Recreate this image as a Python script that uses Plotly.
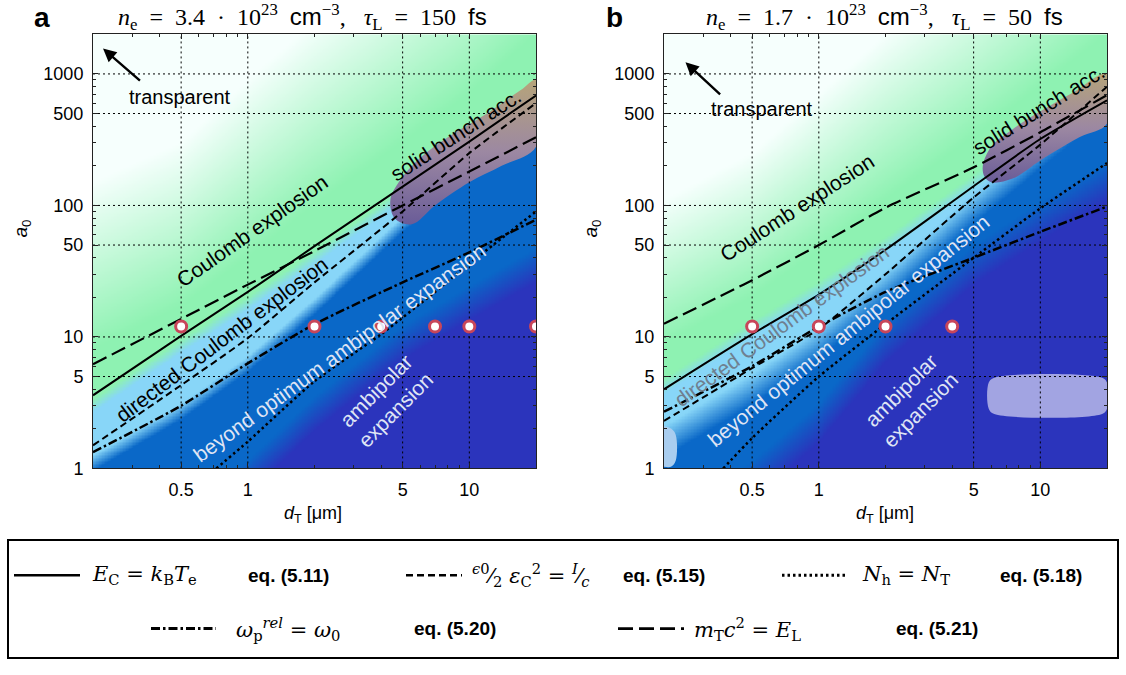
import numpy as np
import plotly.graph_objects as go

# ---------------- data ----------------
# panel a : n_e = 3.4e23 cm^-3, tau_L = 150 fs
a_solid_x = [0.2, 0.5, 1, 2, 5, 10, 20]
a_solid_y = [3.6, 10.2, 22, 49, 139, 306, 686]
a_dash_x = [0.2, 0.5, 1, 2, 5, 10, 20]
a_dash_y = [1.5, 4.3, 9.8, 26, 90, 250, 600]
a_dot_x = [0.72, 1, 2, 4, 7, 10, 20]
a_dot_y = [1.0, 1.6, 4.6, 10.5, 22, 36, 90]
a_dashdot_x = [0.2, 0.5, 1, 2, 5, 10, 20]
a_dashdot_y = [1.33, 3.0, 6.3, 12.5, 26, 44, 78]
a_longdash_x = [0.2, 0.5, 1, 2, 5, 10, 20]
a_longdash_y = [6.2, 13.7, 25, 45, 100, 181, 330]
a_pts_x = [0.5, 2, 4, 7, 10, 20]
a_pts_y = [12, 12, 12, 12, 12, 12]

# panel b : n_e = 1.7e23 cm^-3, tau_L = 50 fs
b_solid_x = [0.2, 0.5, 1, 2, 5, 10, 20]
b_solid_y = [4.0, 10.5, 21, 46, 140, 320, 630]
b_dash_x = [0.2, 0.5, 1, 2, 5, 10, 20]
b_dash_y = [2.3, 5.8, 11.5, 30, 115, 290, 800]
b_dot_x = [0.37, 0.5, 1, 2, 5, 10, 20]
b_dot_y = [1.0, 1.7, 5.0, 12.5, 40, 95, 210]
b_dashdot_x = [0.2, 0.5, 1, 2, 5, 10, 20]
b_dashdot_y = [2.7, 6.0, 12, 22, 40, 63, 98]
b_longdash_x = [0.2, 0.5, 1, 2, 5, 10, 20]
b_longdash_y = [12.6, 27, 50, 96, 195, 360, 690]
b_pts_x = [0.5, 1, 2, 4]
b_pts_y = [12, 12, 12, 12]

# regime boundaries (a0 value at given d_T) used for the coloured background
bound_x = [0.2, 0.5, 1, 2, 5, 10, 20]
a_bound_md = [0.15, 0.4, 0.85, 2.6, 9, 18, 35]       # dark / medium blue
a_bound_lm = [1.1, 2.7, 6.2, 17, 72, 200, 520]       # medium / light blue
a_bound_gl = [3.0, 8.5, 18, 40, 120, 290, 650]       # light blue / green
a_bound_g = [8, 17, 40, 100, 300, 700, 2000]         # fully green
a_bound_w = [150, 300, 900, 2500, 8000, 20000, 50000]  # white (transparent)
b_bound_md = [0.3, 0.8, 2.2, 9, 35, 75, 150]
b_bound_lm = [1.6, 4.0, 9, 24, 95, 250, 650]
b_bound_gl = [4.2, 11.5, 23, 50, 150, 340, 700]
b_bound_g = [9, 20, 45, 110, 330, 800, 2000]
b_bound_w = [110, 250, 700, 2000, 6500, 17000, 50000]

# "solid bunch acc." regions (outline)
a_blob_x = [4.4, 4.8, 6, 8, 12, 17, 20, 20, 14, 10, 7, 5.5, 4.6, 4.4]
a_blob_y = [110, 150, 230, 330, 500, 750, 900, 280, 200, 150, 100, 72, 80, 110]
b_blob_x = [5.5, 6, 7.5, 10, 14, 20, 20, 15, 10, 7.5, 6, 5.6, 5.5]
b_blob_y = [200, 280, 380, 520, 720, 1000, 420, 330, 220, 160, 150, 165, 200]
# light patches in panel b
b_patch_x = [6.2, 19, 20, 20, 19, 6.2, 5.85, 5.85, 6.2]
b_patch_y = [4.9, 4.9, 4.5, 2.85, 2.6, 2.6, 2.85, 4.5, 4.9]
b_corner_x = [0.2, 0.216, 0.226, 0.226, 0.215, 0.2]
b_corner_y = [2.1, 2.0, 1.8, 1.15, 1.03, 1.03]

x_ticks = [0.5, 1, 5, 10]
y_ticks = [1, 5, 10, 50, 100, 500, 1000]
X_RANGE = [0.2, 20]
Y_RANGE = [1, 10 ** 3.3]

# ---------------- colours ----------------
C_D, C_M, C_L, C_G, C_W = '#2b34bc', '#0a68c8', '#88d6f8', '#8ef2b2', '#f6fffd'
cscale = [[0, C_D], [0.2, C_M], [0.4, C_M], [0.5, C_L], [0.6, C_L],
          [0.7, C_G], [0.8, C_G], [1.0, C_W]]


def regime_field(md, lm, gl, g, w, widths):
    lx = np.linspace(np.log10(X_RANGE[0]), np.log10(X_RANGE[1]), 300)
    ly = np.linspace(np.log10(Y_RANGE[0]), np.log10(Y_RANGE[1]), 300)
    lbx = np.log10(bound_x)

    def at(b):
        return np.interp(lx, lbx, np.log10(b))
    e = np.array([at(md) - widths[0], at(md) + widths[0],
                  at(lm) - widths[1], at(lm) + widths[1],
                  at(gl) - widths[2], at(gl) + widths[2],
                  at(g), at(w)])
    e = np.maximum.accumulate(e + np.arange(8)[:, None] * 1e-6, axis=0)
    vals = [0, 0.2, 0.4, 0.5, 0.6, 0.7, 0.8, 1.0]
    z = np.empty((len(ly), len(lx)))
    for j in range(len(lx)):
        z[:, j] = np.interp(ly, e[:, j], vals)
    return 10 ** lx, 10 ** ly, z


fig = go.Figure()

LINE_STYLES = {
    'solid': dict(dash='solid', width=2),
    'dash': dict(dash='7px,4px', width=2),
    'dot': dict(dash='2.5px,3px', width=2.5),
    'dashdot': dict(dash='9px,3px,2.5px,3px', width=2.5),
    'longdash': dict(dash='15px,6px', width=2.2),
}

panels = [
    dict(xa='x', ya='y',
         field=(a_bound_md, a_bound_lm, a_bound_gl, a_bound_g, a_bound_w, (0.13, 0.06, 0.05)),
         blob=(a_blob_x, a_blob_y),
         lines=[('solid', a_solid_x, a_solid_y), ('dash', a_dash_x, a_dash_y),
                ('dot', a_dot_x, a_dot_y), ('dashdot', a_dashdot_x, a_dashdot_y),
                ('longdash', a_longdash_x, a_longdash_y)],
         pts=(a_pts_x, a_pts_y)),
    dict(xa='x2', ya='y2',
         field=(b_bound_md, b_bound_lm, b_bound_gl, b_bound_g, b_bound_w, (0.15, 0.12, 0.06)),
         blob=(b_blob_x, b_blob_y),
         lines=[('solid', b_solid_x, b_solid_y), ('dash', b_dash_x, b_dash_y),
                ('dot', b_dot_x, b_dot_y), ('dashdot', b_dashdot_x, b_dashdot_y),
                ('longdash', b_longdash_x, b_longdash_y)],
         pts=(b_pts_x, b_pts_y)),
]

for i, p in enumerate(panels):
    xa, ya = p['xa'], p['ya']
    md, lm, gl, g, w, widths = p['field']
    hx, hy, hz = regime_field(md, lm, gl, g, w, widths)
    fig.add_trace(go.Heatmap(x=hx, y=hy, z=hz, colorscale=cscale, zmin=0, zmax=1,
                             showscale=False, hoverinfo='skip', xaxis=xa, yaxis=ya))
    bx, by = p['blob']
    fig.add_trace(go.Scatter(x=bx, y=by, mode='lines', fill='toself',
                             line=dict(width=0, shape='spline'),
                             fillgradient=dict(type='vertical',
                                               colorscale=[[0, '#6a5c98'], [0.5, '#9c88a2'], [1, '#b6a47a']]),
                             hoverinfo='skip', xaxis=xa, yaxis=ya))
    if i == 1:
        fig.add_trace(go.Scatter(x=b_patch_x, y=b_patch_y, mode='lines', fill='toself',
                                 fillcolor='#a2a4e2', line=dict(width=0, shape='spline'),
                                 hoverinfo='skip', xaxis=xa, yaxis=ya))
        fig.add_trace(go.Scatter(x=b_corner_x, y=b_corner_y, mode='lines', fill='toself',
                                 fillcolor='#a9cdef', line=dict(width=0, shape='spline'),
                                 hoverinfo='skip', xaxis=xa, yaxis=ya))
    # dotted grid above the background
    for t in x_ticks:
        fig.add_trace(go.Scatter(x=[t, t], y=Y_RANGE, mode='lines',
                                 line=dict(color='black', width=1, dash='2px,3px'),
                                 hoverinfo='skip', xaxis=xa, yaxis=ya))
    for t in y_ticks[1:]:
        fig.add_trace(go.Scatter(x=X_RANGE, y=[t, t], mode='lines',
                                 line=dict(color='black', width=1, dash='2px,3px'),
                                 hoverinfo='skip', xaxis=xa, yaxis=ya))
    for style, lx_, ly_ in p['lines']:
        st = LINE_STYLES[style]
        fig.add_trace(go.Scatter(x=lx_, y=ly_, mode='lines',
                                 line=dict(color='black', width=st['width'], dash=st['dash'], shape='spline', smoothing=0.6),
                                 hoverinfo='skip', xaxis=xa, yaxis=ya))
    px_, py_ = p['pts']
    fig.add_trace(go.Scatter(x=px_, y=py_, mode='markers',
                             marker=dict(size=11, color='white', line=dict(color='#c8465a', width=3)),
                             hoverinfo='skip', xaxis=xa, yaxis=ya))

# ---------------- axes ----------------
def minor_vals(lo_exp, hi_exp, lo, hi):
    out = []
    for e in range(lo_exp, hi_exp + 1):
        for m in range(1, 10):
            v = m * 10 ** e
            if lo <= v <= hi:
                out.append(v)
    return out

x_minor = minor_vals(-1, 1, X_RANGE[0], X_RANGE[1])
y_minor = minor_vals(0, 3, Y_RANGE[0], Y_RANGE[1])
SANS = 'Liberation Sans, Arial, sans-serif'
SERIF = 'DejaVu Serif, Liberation Serif, serif'
TSERIF = 'Liberation Serif, DejaVu Serif, serif'
TICKFONT = dict(family=SANS, size=18, color='black')

common = dict(type='log', showgrid=False, zeroline=False, showline=True, linecolor='#222',
              linewidth=1, mirror='ticks', ticks='inside', ticklen=5, tickcolor='#222',
              tickfont=TICKFONT, ticklabelstandoff=5)
xdom = [[93 / 1126, 536 / 1126], [664 / 1126, 1107 / 1126]]
ydom = [1 - 475.5 / 675, 1 - 35 / 675]
for k, (xn, yn, xan, yan) in enumerate([('xaxis', 'yaxis', 'y', 'x'), ('xaxis2', 'yaxis2', 'y2', 'x2')]):
    fig.update_layout(**{
        xn: dict(common, domain=xdom[k], anchor=xan,
                 range=[np.log10(X_RANGE[0]), np.log10(X_RANGE[1])],
                 tickmode='array', tickvals=x_ticks, ticktext=[str(v) for v in x_ticks],
                 minor=dict(ticks='inside', ticklen=3, tickcolor='#222', tickmode='array', tickvals=x_minor)),
        yn: dict(common, domain=ydom, anchor=yan,
                 range=[np.log10(Y_RANGE[0]), np.log10(Y_RANGE[1])],
                 tickmode='array', tickvals=y_ticks, ticktext=[str(v) for v in y_ticks],
                 minor=dict(ticks='inside', ticklen=3, tickcolor='#222', tickmode='array', tickvals=y_minor)),
    })

# ---------------- annotations ----------------
ann = []

def lab(xa, ya, x, y, text, angle, color='black', size=21):
    ann.append(dict(xref=xa, yref=ya, x=np.log10(x), y=np.log10(y), text=text, showarrow=False,
                    xanchor='center', yanchor='middle',
                    textangle=angle, font=dict(family=SANS, size=size, color=color)))

def ptext(xpx, ypx, text, font, xanchor='center', angle=0):
    ann.append(dict(xref='paper', yref='paper', x=xpx / 1126, y=1 - ypx / 675, text=text,
                    showarrow=False, xanchor=xanchor, yanchor='middle', textangle=angle, font=font))

LIGHT = '#dfe4f4'
lab('x', 'y', 0.493, 671, 'transparent', 0, size=20)
lab('x', 'y', 1.05, 64, 'Coulomb explosion', -35)
lab('x', 'y', 8.7, 349, 'solid bunch acc.', -33)
lab('x', 'y', 0.76, 9.6, 'directed Coulomb explosion', -37)
lab('x', 'y', 2.6, 7.6, 'beyond optimum ambipolar expansion', -36, LIGHT)
lab('x', 'y', 4.2, 3.3, 'ambipolar<br>expansion', -45, LIGHT)

lab('x2', 'y2', 0.553, 537, 'transparent', 0, size=20)
lab('x2', 'y2', 0.80, 96, 'Coulomb explosion', -33)
lab('x2', 'y2', 9.8, 540, 'solid bunch acc.', -32)
lab('x2', 'y2', 0.68, 12.2, 'directed Coulomb explosion', -36, '#6f8090')
lab('x2', 'y2', 1.36, 11.2, 'beyond optimum ambipolar expansion', -39, LIGHT)
lab('x2', 'y2', 2.6, 3.3, 'ambipolar<br>expansion', -45, LIGHT)

# arrows pointing to the transparent corner
for xa, ya, head, tail in [('x', 'y', (0.222, 1560), (0.331, 869)),
                           ('x2', 'y2', (0.25, 1225), (0.364, 683))]:
    ann.append(dict(xref=xa, yref=ya, axref=xa, ayref=ya,
                    x=np.log10(head[0]), y=np.log10(head[1]),
                    ax=np.log10(tail[0]), ay=np.log10(tail[1]),
                    text='', showarrow=True, arrowhead=2, arrowsize=1.1, arrowwidth=2.4,
                    arrowcolor='black'))

# panel letters and titles
for x, letter in [(42, 'a'), (614, 'b')]:
    ptext(x, 18, '<b>' + letter + '</b>', dict(family=SANS, size=28, color='black'))
SP = '<span style="font-family:Liberation Sans, Arial, sans-serif">'
NB = '&nbsp;'


def title_text(ne, tau):
    return ('<i>n</i><sub>e</sub>' + NB * 2 + '=' + NB * 2 + ne + NB * 2 + '·' + NB * 2 + '10<sup>23</sup>' +
            NB * 2 + SP + 'cm</span><sup>−3</sup>,' + NB * 3 + '<i>τ</i><sub>L</sub>' + NB * 2 + '=' + NB * 2 +
            tau + NB * 2 + SP + 'fs</span>')


titles = [(302, title_text('3.4', '150')), (884, title_text('1.7', '50'))]
for x, t in titles:
    ptext(x, 17, t, dict(family=TSERIF, size=24, color='black'))
# axis titles
for x in [313, 885]:
    ptext(x, 522, '<i>d</i><sub>T</sub> [μm]', dict(family=SANS, size=18, color='black'))
for x in [22, 592]:
    ptext(x, 232, '<i>a</i><sub>0</sub>', dict(family=SANS, size=19, color='black'), angle=-90)

# ---------------- legend box ----------------
shapes = [dict(type='rect', xref='paper', yref='paper', x0=8 / 1126, x1=1118 / 1126,
               y0=1 - 668 / 675, y1=1 - 548 / 675, line=dict(color='black', width=2),
               fillcolor='rgba(0,0,0,0)')]
legend_items = [
    ('solid', 14, 80, 584, 90, '<i>E</i><sub>C</sub> = <i>k</i><sub>B</sub><i>T</i><sub>e</sub>', 246, 'eq. (5.11)'),
    ('dash', 406, 462, 584, 470, '<sup><i>ϵ</i>0</sup>⁄<sub>2</sub> <i>ε</i><sub>C</sub><sup>2</sup> = <sup><i>I</i></sup>⁄<sub><i>c</i></sub>', 621, 'eq. (5.15)'),
    ('dot', 782, 845, 584, 860, '<i>N</i><sub>h</sub> = <i>N</i><sub>T</sub>', 998, 'eq. (5.18)'),
    ('dashdot', 151, 216, 638, 234, '<i>ω</i><sub>p</sub><sup><i>rel</i></sup> = <i>ω</i><sub>0</sub>', 412, 'eq. (5.20)'),
    ('longdash', 618, 684, 638, 692, '<i>m</i><sub>T</sub><i>c</i><sup>2</sup> = <i>E</i><sub>L</sub>', 894, 'eq. (5.21)'),
]
for style, x0, x1, yy, tx, txt, ex, eq in legend_items:
    st = LINE_STYLES[style]
    shapes.append(dict(type='line', xref='paper', yref='paper', x0=x0 / 1126, x1=x1 / 1126,
                       y0=1 - yy / 675, y1=1 - yy / 675,
                       line=dict(color='black', width=st['width'] + 0.5, dash=st['dash'])))
    ptext(tx, yy, txt, dict(family=SERIF, size=21, color='black'), xanchor='left')
    ptext(ex, yy, '<b>' + eq + '</b>', dict(family=SANS, size=19, color='black'), xanchor='left')

fig.update_layout(width=1126, height=675, margin=dict(l=0, r=0, t=0, b=0),
                  paper_bgcolor='white', plot_bgcolor='white', showlegend=False,
                  annotations=ann, shapes=shapes)

fig.write_html('out.html')
